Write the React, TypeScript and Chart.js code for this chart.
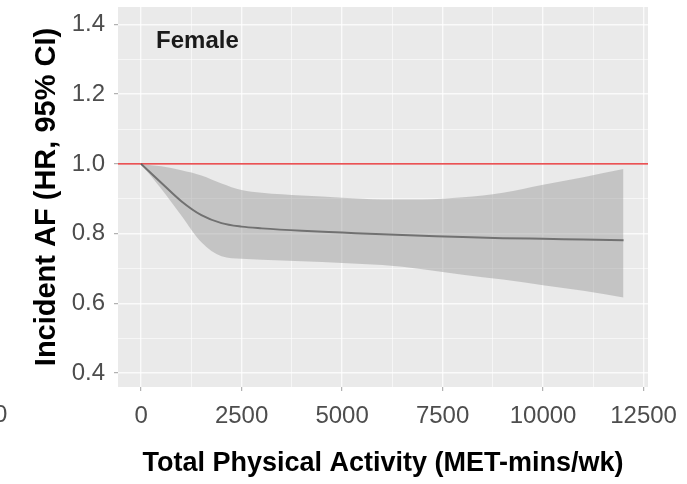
import React, { useEffect, useRef } from "react";
import { Chart, registerables } from "chart.js";

Chart.register(...registerables);

// ---- data ----
const activity = [0, 500, 1000, 1500, 2000, 2500, 3000, 4000, 5000, 6000, 7000, 8000, 9000, 10000, 11000, 12000];
const hazardRatio = [1.0, 0.946, 0.893, 0.853, 0.83, 0.82, 0.815, 0.808, 0.803, 0.798, 0.794, 0.79, 0.787, 0.785, 0.783, 0.781];
const upperCI = [1.0, 0.993, 0.982, 0.967, 0.944, 0.925, 0.917, 0.909, 0.903, 0.898, 0.898, 0.904, 0.917, 0.94, 0.962, 0.985];
const lowerCI = [1.0, 0.929, 0.852, 0.775, 0.735, 0.728, 0.725, 0.721, 0.716, 0.71, 0.698, 0.682, 0.668, 0.652, 0.636, 0.617];
const referenceHR = 1.0;

const xMajorTicks = [0, 2500, 5000, 7500, 10000, 12500];
const xMinorTicks = [1250, 3750, 6250, 8750, 11250];
const xTickLabels = ["0", "2500", "5000", "7500", "10000", "12500"];
const yMajorTicks = [0.4, 0.6, 0.8, 1.0, 1.2, 1.4];
const yMinorTicks = [0.5, 0.7, 0.9, 1.1, 1.3];
const yTickLabels = ["0.4", "0.6", "0.8", "1.0", "1.2", "1.4"];
const xRange = [-575, 12610];
const yRange = [0.36, 1.45];

const panelLabel = "Female";
const panelLabelAt = { x: 1400, y: 1.352 };
const xTitle = "Total Physical Activity (MET-mins/wk)";
const yTitle = "Incident AF (HR, 95% CI)";

const FONT = "'Liberation Sans', Arial, Helvetica, sans-serif";

function findIndex(list: number[], v: number) {
  return list.findIndex((t) => Math.abs(t - v) < 1e-9);
}

function buildTicks(majors: number[], minors: number[]) {
  return [...majors.map((v) => ({ value: v, minor: false })), ...minors.map((v) => ({ value: v, minor: true }))].sort(
    (a, b) => a.value - b.value
  );
}

const panelBackground = {
  id: "panelBackground",
  beforeDraw(chart: any) {
    const { ctx, chartArea } = chart;
    ctx.save();
    ctx.fillStyle = "#EAEAEA";
    ctx.fillRect(chartArea.left, chartArea.top, chartArea.right - chartArea.left, chartArea.bottom - chartArea.top);
    ctx.restore();
  },
};

const panelText = {
  id: "panelText",
  afterDatasetsDraw(chart: any) {
    const { ctx, scales } = chart;
    ctx.save();
    ctx.font = `bold 24px ${FONT}`;
    ctx.fillStyle = "#1A1A1A";
    ctx.textAlign = "center";
    ctx.textBaseline = "middle";
    ctx.fillText(panelLabel, scales.x.getPixelForValue(panelLabelAt.x), scales.y.getPixelForValue(panelLabelAt.y));
    ctx.restore();
  },
};

export default function App() {
  const canvasRef = useRef<HTMLCanvasElement | null>(null);

  useEffect(() => {
    if (!canvasRef.current) return;
    const gridColor = (c: any) => (c.tick && c.tick.minor ? "rgba(255,255,255,0.55)" : "rgba(255,255,255,0.75)");
    const gridWidth = (c: any) => (c.tick && c.tick.minor ? 1 : 1.4);
    const tickColor = (c: any) => (c.tick && c.tick.minor ? "rgba(0,0,0,0)" : "#A0A0A0");

    const chart = new Chart(canvasRef.current, {
      type: "line",
      data: {
        datasets: [
          {
            label: "upper",
            data: activity.map((x, i) => ({ x, y: upperCI[i] })),
            borderWidth: 0,
            borderColor: "rgba(0,0,0,0)",
            backgroundColor: "rgba(150,150,150,0.45)",
            pointRadius: 0,
            fill: "+1",
            cubicInterpolationMode: "monotone",
          },
          {
            label: "lower",
            data: activity.map((x, i) => ({ x, y: lowerCI[i] })),
            borderWidth: 0,
            borderColor: "rgba(0,0,0,0)",
            pointRadius: 0,
            fill: false,
            cubicInterpolationMode: "monotone",
          },
          {
            label: "HR",
            data: activity.map((x, i) => ({ x, y: hazardRatio[i] })),
            borderWidth: 2,
            borderColor: "#525252",
            pointRadius: 0,
            fill: false,
            cubicInterpolationMode: "monotone",
          },
          {
            label: "reference",
            data: [
              { x: xRange[0], y: referenceHR },
              { x: xRange[1], y: referenceHR },
            ],
            borderWidth: 1.2,
            borderColor: "#E41A1C",
            pointRadius: 0,
            fill: false,
          },
        ],
      },
      options: {
        responsive: false,
        animation: false,
        events: [],
        layout: { padding: { top: 7, right: 39, bottom: 0, left: 0 } },
        plugins: { legend: { display: false }, tooltip: { enabled: false } },
        scales: {
          x: {
            type: "linear",
            min: xRange[0],
            max: xRange[1],
            afterBuildTicks: (s: any) => {
              s.ticks = buildTicks(xMajorTicks, xMinorTicks);
            },
            afterFit: (s: any) => {
              s.height = 97;
              s.paddingLeft = 0;
              s.paddingRight = 0;
            },
            ticks: {
              autoSkip: false,
              maxRotation: 0,
              padding: 11,
              color: "#4D4D4D",
              font: { family: FONT, size: 24 },
              callback: (v: any) => {
                const i = findIndex(xMajorTicks, Number(v));
                return i >= 0 ? xTickLabels[i] : "";
              },
            },
            grid: { color: gridColor, lineWidth: gridWidth, tickColor, tickLength: 4, tickWidth: 1 },
            border: { display: false },
            title: {
              display: true,
              text: xTitle,
              color: "#000",
              font: { family: FONT, size: 27, weight: "bold" },
              padding: { top: 0, bottom: 4 },
            },
          },
          y: {
            type: "linear",
            min: yRange[0],
            max: yRange[1],
            afterBuildTicks: (s: any) => {
              s.ticks = buildTicks(yMajorTicks, yMinorTicks);
            },
            afterFit: (s: any) => {
              s.width = 118;
              s.paddingTop = 0;
              s.paddingBottom = 0;
            },
            ticks: {
              autoSkip: false,
              padding: 9,
              color: "#4D4D4D",
              font: { family: FONT, size: 24 },
              callback: (v: any) => {
                const i = findIndex(yMajorTicks, Number(v));
                return i >= 0 ? yTickLabels[i] : "";
              },
            },
            grid: { color: gridColor, lineWidth: gridWidth, tickColor, tickLength: 4, tickWidth: 1 },
            border: { display: false },
            title: {
              display: true,
              text: yTitle,
              color: "#000",
              font: { family: FONT, size: 29, weight: "bold" },
              padding: { top: 30, bottom: 0 },
            },
          },
        },
      },
      plugins: [panelBackground, panelText],
    } as any);

    return () => chart.destroy();
  }, []);

  return (
    <div style={{ position: "absolute", left: 0, top: 0, width: 687, height: 484, background: "#fff", overflow: "hidden" }}>
      <canvas ref={canvasRef} width={687} height={484} style={{ display: "block" }} />
      <span
        style={{
          position: "absolute",
          left: -6,
          top: 402,
          fontFamily: FONT,
          fontSize: 24,
          lineHeight: "24px",
          color: "#4D4D4D",
        }}
      >
        0
      </span>
    </div>
  );
}
